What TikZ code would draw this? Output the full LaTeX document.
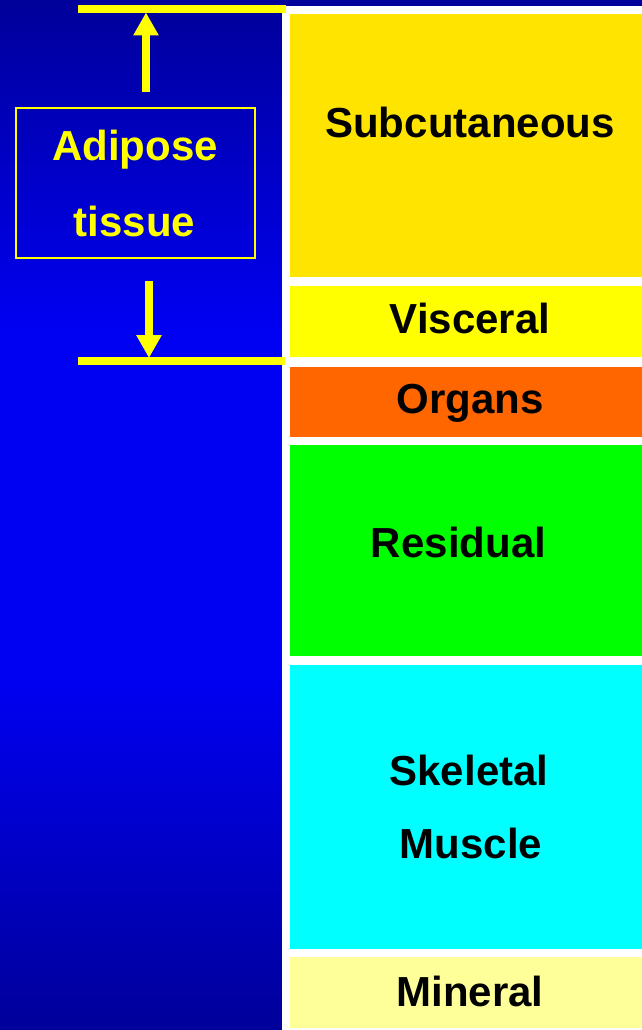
\documentclass[tikz,border=0pt]{standalone}
\usepackage{fontspec}
\setmainfont{Liberation Sans}
\usetikzlibrary{arrows.meta}
\definecolor{bgdark}{HTML}{00009A}
\definecolor{bgmid}{HTML}{0000F2}
\definecolor{subcc}{HTML}{FFE400}
\definecolor{viscc}{HTML}{FFFF00}
\definecolor{orgc}{HTML}{FF6600}
\definecolor{resc}{HTML}{00FF00}
\definecolor{musc}{HTML}{00FFFF}
\definecolor{minc}{HTML}{FFFF99}
\definecolor{adip}{HTML}{FFFF00}
\tikzset{
  layer/.style={draw=none, minimum width=352pt, anchor=north west, inner sep=0pt, outer sep=0pt},
  lbl/.style={anchor=base, inner sep=0pt, font=\fontsize{42}{50}\selectfont\bfseries, text=black},
  albl/.style={lbl, text=adip},
  adbox/.style={draw=adip, line width=1.6pt, minimum width=239pt, minimum height=150pt, anchor=north west, inner sep=0pt},
  yline/.style={draw=adip, line width=7.5pt},
  yarrow/.style={draw=adip, line width=8pt, -{Triangle[width=24pt,length=23pt]}}
}
\begin{document}
\begin{tikzpicture}[x=1pt,y=-1pt]
\useasboundingbox (0,0) rectangle (642,1030);
% background
\shade[top color=bgdark, bottom color=bgmid] (0,0) rectangle (642,330.5);
\fill[bgmid] (0,330) rectangle (642,680.5);
\shade[top color=bgmid, bottom color=bgdark] (0,680) rectangle (642,1030);
\fill[white] (282,6) rectangle (642,1030);
% layers
\node[layer, fill=subcc, minimum height=263pt] (subc) at (290,14) {};
\node[layer, fill=viscc, minimum height=71pt] (visc) at (290,286) {};
\node[layer, fill=orgc, minimum height=70pt] (org) at (290,367) {};
\node[layer, fill=resc, minimum height=211pt] (res) at (290,445) {};
\node[layer, fill=musc, minimum height=284pt] (mus) at (290,665) {};
\node[layer, fill=minc, minimum height=71pt] (mine) at (290,957) {};
% labels
\node[lbl] (tsubc) at (470,138) {Subcutaneous};
\node[lbl] (tvisc) at (470,333) {Visceral};
\node[lbl] (torg) at (470,413) {Organs};
\node[lbl] (tres) at (458.5,557) {Residual};
\node[lbl] (tmus1) at (469,785) {Skeletal};
\node[lbl] (tmus2) at (471,858) {Muscle};
\node[lbl] (tmin) at (470,1006) {Mineral};
% adipose box
\node[adbox] (abox) at (15,107) {};
\node[albl] (tad1) at (135,160) {Adipose};
\node[albl] (tad2) at (134.5,236) {tissue};
% lines and arrows
\coordinate (tl1) at (78,9);
\coordinate (tl2) at (286,9);
\coordinate (bl1) at (78,361);
\coordinate (bl2) at (285,361);
\draw[yline] (tl1) -- (tl2);
\draw[yline] (bl1) -- (bl2);
\coordinate (ua1) at (146,92);
\coordinate (ua2) at (146,12.5);
\coordinate (da1) at (149,281);
\coordinate (da2) at (149,358);
\draw[yarrow] (ua1) -- (ua2);
\draw[yarrow] (da1) -- (da2);
\end{tikzpicture}
\end{document}
